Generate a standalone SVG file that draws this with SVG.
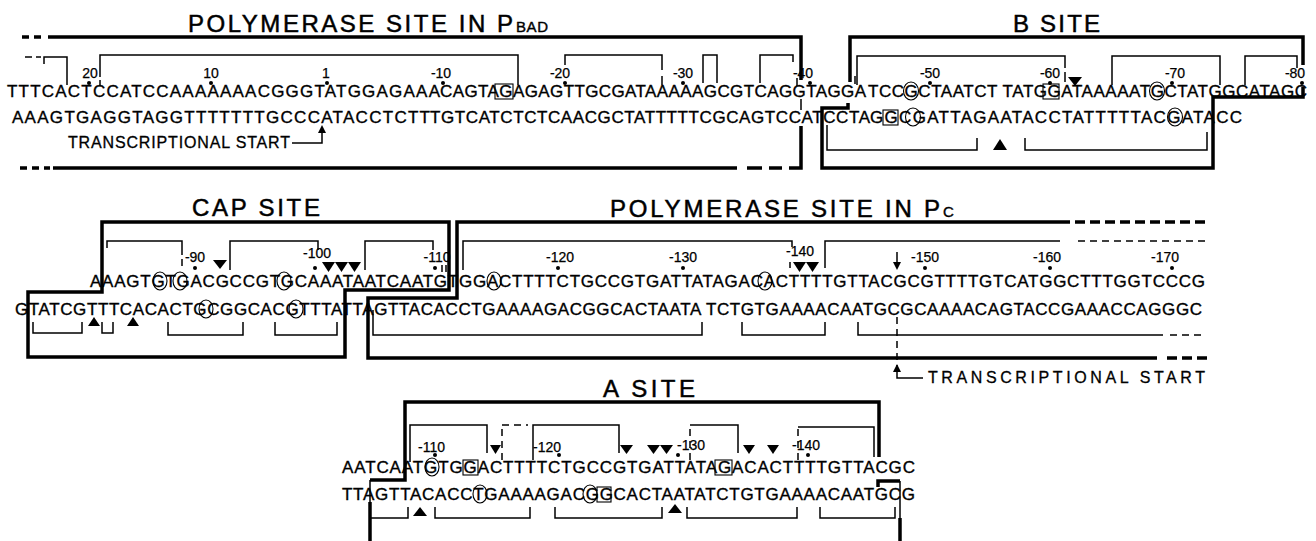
<svg xmlns="http://www.w3.org/2000/svg" width="1316" height="541" viewBox="0 0 1316 541">
<style>
text{font-family:"Liberation Sans",Arial,Helvetica,sans-serif;fill:#000;stroke:#000;stroke-width:0.35}
.dna{font-size:17px}
.num{font-size:14px;text-anchor:middle;stroke-width:0.25}
.nums{font-size:14px;stroke-width:0.25}
.ttl{font-size:24px;stroke-width:0.5}
.sub{font-size:15px;stroke-width:0.4}
.ts{font-size:16px;stroke-width:0.3}
.thin{stroke:#000;stroke-width:1.5;fill:none}
.thick{stroke:#000;stroke-width:3.5;fill:none}
.dsh{stroke-dasharray:7 5}
.ring{fill:none;stroke:#000;stroke-width:1.1}
.tri{fill:#000}
.dot{fill:#000}
</style>
<rect width="1316" height="541" fill="#fff"/>

<!-- ===== TOP SECTION ===== -->
<g id="title-pbad">
<text class="ttl" x="188" y="32" textLength="325" lengthAdjust="spacing">POLYMERASE  SITE  IN  P</text>
<text class="sub" x="516" y="32" textLength="32" lengthAdjust="spacing">BAD</text>
</g>
<g id="title-bsite"><text class="ttl" x="1013" y="32" textLength="87" lengthAdjust="spacing">B SITE</text></g>

<g id="row1-sequence">
<text class="dna" x="7" y="97" textLength="433" lengthAdjust="spacing">TTTCACTCCATCCAAAAAAACGGGTATGGAGAAA</text>
<text class="dna" x="440" y="97" textLength="426" lengthAdjust="spacing">CAGTAGAGAGTTGCGATAAAAAGCGTCAGGTAGGA</text>
<text class="dna" x="868" y="97" textLength="439" lengthAdjust="spacing">TCCGCTAATCT TATGGATAAAAATGCTATGGCATAGC</text>
<text class="dna" x="12" y="123" textLength="418" lengthAdjust="spacing">AAAGTGAGGTAGGTTTTTTTGCCCATACCTCTT</text>
<text class="dna" x="430" y="123" textLength="440" lengthAdjust="spacing">TGTCATCTCTCAACGCTATTTTTCGCAGTCCATCCTA</text>
<text class="dna" x="870" y="123" textLength="372" lengthAdjust="spacing">GGCGATTAGAATACCTATTTTTACGATACC</text>
</g>

<g id="row1-numbers">
<text class="num" x="90" y="78">20</text>
<text class="num" x="211" y="78">10</text>
<text class="num" x="326" y="78">1</text>
<text class="num" x="441" y="78">-10</text>
<text class="num" x="560" y="78">-20</text>
<text class="num" x="683" y="78">-30</text>
<text class="num" x="803" y="78">-40</text>
<text class="num" x="930" y="78">-50</text>
<text class="num" x="1050" y="78">-60</text>
<text class="num" x="1175" y="78">-70</text>
<text class="num" x="1295" y="78">-80</text>
<circle class="dot" cx="89" cy="83" r="2"/>
<circle class="dot" cx="211" cy="83" r="2"/>
<circle class="dot" cx="327" cy="83" r="2"/>
<circle class="dot" cx="443" cy="83" r="2"/>
<circle class="dot" cx="565" cy="83" r="2"/>
<circle class="dot" cx="683" cy="83" r="2"/>
<circle class="dot" cx="810" cy="83" r="2"/>
<circle class="dot" cx="930" cy="83" r="2"/>
<circle class="dot" cx="1050" cy="83" r="2"/>
<circle class="dot" cx="1172" cy="83" r="2"/>
<circle class="dot" cx="1302" cy="83" r="2"/>
</g>

<g id="row1-marks">
<rect class="ring" x="495" y="84" width="18" height="15"/>
<ellipse class="ring" cx="911" cy="91" rx="7.5" ry="9"/>
<rect class="ring" x="1043" y="84" width="16" height="15"/>
<ellipse class="ring" cx="1157" cy="91" rx="7.5" ry="9"/>
<rect class="ring" x="883" y="110" width="15" height="15"/>
<ellipse class="ring" cx="913" cy="117" rx="7.5" ry="9"/>
<ellipse class="ring" cx="1175" cy="117" rx="7.5" ry="9"/>
<polygon class="tri" points="1068,77 1082,77 1075,86"/>
<polygon class="tri" points="993,150 1007,150 1000,139"/>
</g>

<g id="row1-transcriptional-start">
<text class="ts" x="68" y="148" textLength="222" lengthAdjust="spacing">TRANSCRIPTIONAL START</text>
<polyline class="thin" points="292,143 322,143 322,132"/>
<polygon class="tri" points="318,133 326,133 322,125"/>
</g>

<g id="connectors">
<!-- polymerase site in PBAD outline -->
<line class="thick dsh" x1="22" y1="37" x2="46" y2="37"/>
<polyline class="thick" points="48,37 801,37 801,80"/>
<line class="thin" x1="797" y1="78" x2="797" y2="86"/>
<line class="thin" x1="801" y1="99" x2="801" y2="110"/>
<line class="thick dsh" x1="20" y1="168" x2="50" y2="168"/>
<line class="thick" x1="53" y1="168" x2="737" y2="168"/>
<line class="thick" x1="747" y1="168" x2="762" y2="168"/>
<line class="thick" x1="769" y1="168" x2="782" y2="168"/>
<polyline class="thick" points="789,168 801,168 801,126"/>
<!-- B site outline -->
<polyline class="thick" points="850,82 850,37 1303,37 1303,65"/>
<line class="thin" x1="855" y1="76" x2="855" y2="84"/>
<polyline class="thick" points="1303,87 1303,97 1213,97 1213,168 822,168 822,108 848,108 848,103"/>
<!-- top brackets row 1 -->
<line class="thin" x1="25" y1="57" x2="32" y2="57"/>
<line class="thin" x1="36" y1="57" x2="41" y2="57"/>
<polyline class="thin" points="44,64 44,57 67,57 67,85"/>
<polyline class="thin" points="100,77 100,55 518,55 518,85"/>
<line class="thin" x1="100" y1="80" x2="100" y2="86"/>
<polyline class="thin" points="565,65 565,55 662,55 662,70"/>
<line class="thin" x1="662" y1="76" x2="662" y2="85"/>
<polyline class="thin" points="703,83 703,55 717,55 717,83"/>
<polyline class="thin" points="760,83 760,55 793,55 793,62"/>
<polyline class="thin" points="857,85 857,56 1065,56 1065,68"/>
<line class="thin" x1="1065" y1="72" x2="1065" y2="82"/>
<polyline class="thin" points="1112,85 1112,56 1220,56 1220,85"/>
<polyline class="thin" points="1245,85 1245,56 1297,56 1297,68"/>
<polyline class="thin" points="827,125 827,150 977,150 977,138"/>
<polyline class="thin" points="1025,138 1025,150 1207,150 1207,132"/>

<!-- CAP site outline -->
<polygon class="thick" points="102,222 449,222 449,290 345,290 345,357 28,357 28,292 102,292"/>
<!-- Pc outline -->
<polyline class="thick" points="1070,222 457,222 457,298 368,298 368,358 1157,358"/>
<line class="thick" x1="1075" y1="222" x2="1207" y2="222" stroke-dasharray="10 5"/>
<line class="thick" x1="1167" y1="358" x2="1207" y2="358" stroke-dasharray="10 5"/>
<!-- middle top brackets -->
<polyline class="thin" points="107,248 107,241 182,241 182,255"/>
<line class="thin" x1="182" y1="259" x2="182" y2="266"/>
<polyline class="thin" points="230,270 230,241 318,241 318,250"/>
<polyline class="thin" points="365,270 365,241 433,241 433,250"/>
<line class="thin" x1="442" y1="265" x2="442" y2="272"/>
<line class="thin" x1="446" y1="265" x2="446" y2="272"/>
<polyline class="thin" points="463,270 463,241 792,241 792,247"/>
<line class="thin" x1="790" y1="262" x2="790" y2="268"/>
<polyline class="thin" points="825,268 825,241 1060,241"/>
<line class="thin dsh" x1="1078" y1="241" x2="1205" y2="241"/>
<!-- middle bottom brackets -->
<polyline class="thin" points="33,322 33,333 82,333 82,322"/>
<polyline class="thin" points="102,322 102,333 113,333 113,322"/>
<polyline class="thin" points="168,322 168,335 243,335 243,322"/>
<polyline class="thin" points="275,322 275,335 337,335 337,322"/>
<polyline class="thin" points="373,310 373,335 702,335 702,322"/>
<polyline class="thin" points="742,322 742,335 825,335 825,322"/>
<polyline class="thin" points="858,322 858,335 1163,335"/>
<line class="thin dsh" x1="1170" y1="335" x2="1205" y2="335"/>
<!-- Pc transcriptional start -->
<line class="thin" x1="897" y1="252" x2="897" y2="263"/>
<polygon class="tri" points="893,262 901,262 897,270"/>
<line class="thin dsh" x1="897" y1="317" x2="897" y2="366"/>
<polyline class="thin" points="923,378 897,378 897,371"/>
<polygon class="tri" points="893,372 901,372 897,364"/>

<!-- A site outline -->
<polyline class="thick" points="879,457 879,402 405,402 405,480 370,480"/>
<line class="thin" x1="874" y1="440" x2="874" y2="457"/>
<line class="thin" x1="370" y1="480" x2="370" y2="502"/>
<line class="thick" x1="370" y1="502" x2="370" y2="541"/>
<polyline class="thick" points="878,487 878,481 900,481"/>
<line class="thin" x1="900" y1="481" x2="900" y2="518"/>
<line class="thick" x1="900" y1="518" x2="900" y2="541"/>
<!-- A site top brackets -->
<polyline class="thin" points="410,462 410,425 487,425 487,453"/>
<line class="thin dsh" x1="502" y1="460" x2="502" y2="425"/>
<line class="thin dsh" x1="502" y1="425" x2="528" y2="425"/>
<polyline class="thin" points="533,460 533,425 619,425 619,453"/>
<line class="thin dsh" x1="690" y1="460" x2="690" y2="425"/>
<polyline class="thin" points="690,425 738,425 738,453"/>
<line class="thin dsh" x1="798" y1="460" x2="798" y2="427"/>
<polyline class="thin" points="798,427 874,427 874,440"/>
<!-- A site bottom brackets -->
<polyline class="thin" points="370,507 370,518 408,518 408,507"/>
<polyline class="thin" points="435,507 435,518 530,518 530,507"/>
<polyline class="thin" points="555,507 555,518 662,518 662,507"/>
<polyline class="thin" points="687,507 687,518 797,518 797,507"/>
<polyline class="thin" points="820,507 820,518 895,518 895,507"/>
</g>

<!-- ===== MIDDLE SECTION ===== -->
<g id="title-cap"><text class="ttl" x="192" y="216" textLength="128" lengthAdjust="spacing">CAP SITE</text></g>
<g id="title-pc">
<text class="ttl" x="610" y="217" textLength="330" lengthAdjust="spacing">POLYMERASE  SITE  IN  P</text>
<text class="sub" x="943" y="217">C</text>
</g>

<g id="row2-sequence">
<text class="dna" x="90" y="287" textLength="1115" lengthAdjust="spacing">AAAGTGTGACGCCGTGCAAATAATCAATGTGGACTTTTCTGCCGTGATTATAGACACTTTTGTTACGCGTTTTGTCATGGCTTTGGTCCCG</text>
<text class="dna" x="15" y="315" textLength="1187" lengthAdjust="spacing">GTATCGTTTCACACTGCGGCACGTTTATTAGTTACACCTGAAAAGACGGCACTAATA TCTGTGAAAACAATGCGCAAAACAGTACCGAAACCAGGGC</text>
</g>

<g id="row2-numbers">
<text class="num" x="195" y="262">-90</text>
<text class="num" x="317" y="258">-100</text>
<text class="num" x="437" y="262">-110</text>
<text class="num" x="560" y="262">-120</text>
<text class="num" x="683" y="262">-130</text>
<text class="num" x="800" y="256">-140</text>
<text class="num" x="925" y="262">-150</text>
<text class="num" x="1047" y="262">-160</text>
<text class="num" x="1165" y="262">-170</text>
<circle class="dot" cx="195" cy="268" r="2"/>
<circle class="dot" cx="315" cy="268" r="2"/>
<circle class="dot" cx="435" cy="268" r="2"/>
<circle class="dot" cx="558" cy="268" r="2"/>
<circle class="dot" cx="683" cy="268" r="2"/>
<circle class="dot" cx="925" cy="268" r="2"/>
<circle class="dot" cx="1050" cy="268" r="2"/>
<circle class="dot" cx="1172" cy="268" r="2"/>
</g>

<g id="row2-marks">
<ellipse class="ring" cx="160" cy="281" rx="7" ry="9"/>
<ellipse class="ring" cx="180" cy="281" rx="7" ry="9"/>
<ellipse class="ring" cx="284" cy="281" rx="7" ry="9"/>
<ellipse class="ring" cx="494" cy="281" rx="7" ry="9"/>
<ellipse class="ring" cx="765" cy="281" rx="7" ry="9"/>
<ellipse class="ring" cx="206" cy="309" rx="7" ry="9"/>
<ellipse class="ring" cx="296" cy="309" rx="7" ry="9"/>
<polygon class="tri" points="213,260 227,260 220,269"/>
<polygon class="tri" points="322,262 335,262 328.5,272"/>
<polygon class="tri" points="335,262 348,262 341.5,272"/>
<polygon class="tri" points="348,262 361,262 354.5,272"/>
<polygon class="tri" points="793,262 806,262 799.5,272"/>
<polygon class="tri" points="806,262 819,262 812.5,272"/>
<polygon class="tri" points="88,326 100,326 94,317"/>
<polygon class="tri" points="127,326 139,326 133,317"/>
</g>

<g id="row2-transcriptional-start">
<text class="ts" x="928" y="383" textLength="277" lengthAdjust="spacing">TRANSCRIPTIONAL START</text>
</g>

<!-- ===== A SITE ===== -->
<g id="title-asite"><text class="ttl" x="603" y="397" textLength="92" lengthAdjust="spacing">A SITE</text></g>

<g id="row3-sequence">
<text class="dna" x="342" y="473" textLength="573" lengthAdjust="spacing">AATCAATGTGGACTTTTCTGCCGTGATTATAGACACTTTTGTTACGC</text>
<text class="dna" x="342" y="500" textLength="573" lengthAdjust="spacing">TTAGTTACACCTGAAAAGACGGCACTAATATCTGTGAAAACAATGCG</text>
</g>

<g id="row3-numbers">
<text class="nums" x="418" y="452">-110</text>
<text class="nums" x="533" y="452">-120</text>
<text class="nums" x="677" y="450">-130</text>
<text class="nums" x="792" y="450">-140</text>
<circle class="dot" cx="435" cy="455" r="2"/>
<circle class="dot" cx="559" cy="455" r="2"/>
<circle class="dot" cx="678" cy="455" r="2"/>
<circle class="dot" cx="808" cy="455" r="2"/>
</g>

<g id="row3-marks">
<ellipse class="ring" cx="432" cy="467" rx="7" ry="9"/>
<rect class="ring" x="463" y="460" width="15" height="15"/>
<rect class="ring" x="715" y="460" width="17" height="15"/>
<ellipse class="ring" cx="480" cy="494" rx="7" ry="9"/>
<ellipse class="ring" cx="590" cy="494" rx="7" ry="9"/>
<rect class="ring" x="597" y="487" width="14" height="15"/>
<polygon class="tri" points="490,445 501,445 495.5,454"/>
<polygon class="tri" points="620,445 633,445 626.5,454"/>
<polygon class="tri" points="647,445 660,445 653.5,454"/>
<polygon class="tri" points="660,445 673,445 666.5,454"/>
<polygon class="tri" points="743,445 755,445 749,454"/>
<polygon class="tri" points="767,445 779,445 773,454"/>
<polygon class="tri" points="413,516 427,516 420,507"/>
<polygon class="tri" points="668,513 682,513 675,504"/>
</g>
</svg>
